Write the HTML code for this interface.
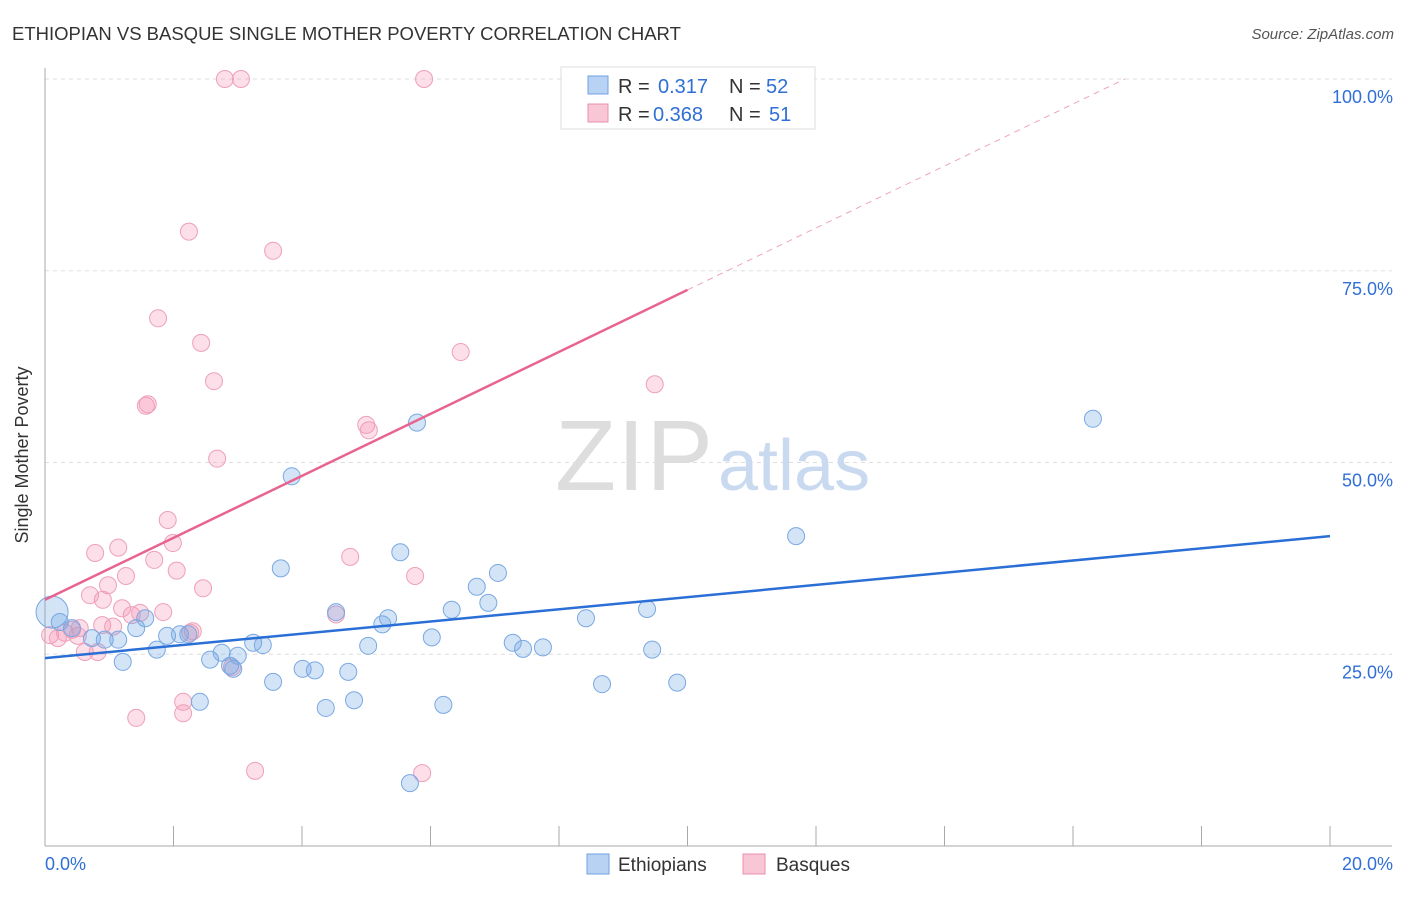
<!DOCTYPE html>
<html><head><meta charset="utf-8"><style>
body{margin:0;background:#fff;font-family:"Liberation Sans",sans-serif}
svg text{font-family:"Liberation Sans",sans-serif}
</style></head><body>
<svg width="1406" height="892" xmlns="http://www.w3.org/2000/svg">
<text x="12" y="40" font-size="18.5" fill="#333">ETHIOPIAN VS BASQUE SINGLE MOTHER POVERTY CORRELATION CHART</text>
<text x="1394" y="39" font-size="15" fill="#555" text-anchor="end" font-style="italic">Source: ZipAtlas.com</text>
<g id="grid"></g>
<text x="555" y="490" font-size="100" fill="#ddd" textLength="158" font-family="Liberation Serif">ZIP</text>
<text x="718" y="490" font-size="72" fill="#c9daf0">atlas</text>
<text x="28" y="455" font-size="18" fill="#333" text-anchor="middle" transform="rotate(-90 28 455)">Single Mother Poverty</text>
<g id="marks"></g>
<g>
<rect x="561" y="67" width="254" height="62" fill="#fff" stroke="#ddd"/>
<rect x="588" y="76" width="20" height="18" fill="#b8d2f4" stroke="#6fa0e0"/>
<text x="618" y="93" font-size="20" fill="#333">R =</text>
<text x="658" y="93" font-size="20" fill="#2f6fd6">0.317</text>
<text x="729" y="93" font-size="20" fill="#333">N =</text>
<text x="766" y="93" font-size="20" fill="#2f6fd6">52</text>
<rect x="588" y="104" width="20" height="18" fill="#f9c6d5" stroke="#e890aa"/>
<text x="618" y="121" font-size="20" fill="#333">R =</text>
<text x="653" y="121" font-size="20" fill="#2f6fd6">0.368</text>
<text x="729" y="121" font-size="20" fill="#333">N =</text>
<text x="769" y="121" font-size="20" fill="#2f6fd6">51</text>
</g>
<g>
<rect x="587" y="854" width="22" height="20" fill="#b8d2f4" stroke="#6fa0e0"/>
<text x="618" y="871" font-size="19" fill="#333">Ethiopians</text>
<rect x="743" y="854" width="22" height="20" fill="#f9c6d5" stroke="#e890aa"/>
<text x="776" y="871" font-size="19" fill="#333">Basques</text>
</g>
</svg>
<script>
const yTicks=[100,75,50,25];
const yTickLabels=["100.0%","75.0%","50.0%","25.0%"];
const xTickLabels=["0.0%","20.0%"];
const ethX=[0.11,0.23,0.42,0.73,0.93,1.14,1.21,1.42,1.56,1.74,1.90,2.10,2.23,2.41,2.57,2.75,2.88,2.93,3.00,3.24,3.39,3.55,3.67,3.84,4.01,4.20,4.37,4.53,4.72,4.81,5.03,5.25,5.34,5.53,5.68,5.79,6.02,6.20,6.33,6.72,6.90,7.05,7.28,7.44,7.75,8.42,8.67,9.37,9.45,9.84,11.69,16.31];
const ethY=[30.5,29.2,28.4,27.1,26.9,26.9,24.0,28.4,29.7,25.6,27.4,27.6,27.6,18.8,24.3,25.2,23.5,23.1,24.8,26.5,26.2,21.4,36.2,48.2,23.1,22.9,18.0,30.5,22.7,19.0,26.1,28.9,29.7,38.3,8.2,55.2,27.2,18.4,30.8,33.8,31.7,35.6,26.5,25.7,25.9,29.7,21.1,30.9,25.6,21.3,40.4,55.7];
const basX=[0.08,0.20,0.31,0.42,0.51,0.54,0.62,0.70,0.78,0.82,0.89,0.90,0.98,1.06,1.14,1.20,1.26,1.35,1.42,1.48,1.57,1.60,1.70,1.76,1.84,1.91,1.99,2.05,2.15,2.15,2.24,2.26,2.30,2.43,2.46,2.63,2.68,2.80,2.91,3.05,3.27,3.55,4.53,4.75,5.00,5.04,5.76,5.87,5.90,6.47,9.49];
const basY=[27.5,27.1,27.8,28.2,27.4,28.4,25.3,32.7,38.2,25.3,28.8,32.1,34.0,28.6,38.9,31.0,35.2,30.1,16.7,30.4,57.4,57.6,37.3,68.8,30.5,42.5,39.5,35.9,18.8,17.3,80.1,27.8,28.0,65.6,33.6,60.6,50.5,100,23.3,100,9.8,77.6,30.2,37.7,54.9,54.2,35.2,9.5,100,64.4,60.2];
const ethLine=[24.5,40.4];
const basLine=[32.1,72.5];
const basLineEndX=10;
const NS="http://www.w3.org/2000/svg";
const X=v=>45+v/20*1285;
const Y=v=>846-v/100*767;
function mk(t,a,p){const e=document.createElementNS(NS,t);for(const k in a)e.setAttribute(k,a[k]);p.appendChild(e);return e;}
const grid=document.getElementById('grid'),marks=document.getElementById('marks');
yTicks.forEach((t,i)=>{
 const l=mk('line',{x1:45,x2:1392,y1:Y(t),y2:Y(t),stroke:'#ddd','stroke-dasharray':'4,4'},grid);
 
 
 const tx=mk('text',{x:1393,y:Y(t)+24,'font-size':18,fill:'#2f6fd6','text-anchor':'end'},grid);
 tx.textContent=yTickLabels[i];
 
 
});
const ax=mk('line',{x1:45,x2:45,y1:68,y2:846,stroke:'#aaa'},grid);


const bx=mk('line',{x1:45,x2:1392,y1:846,y2:846,stroke:'#aaa'},grid);


for(let i=0;i<=10;i++){const t=mk('line',{x1:X(i*2),x2:X(i*2),y1:826,y2:846,stroke:'#aaa'},grid);
 
 }
[[0,'start',45],[20,'end',1393]].forEach((d,i)=>{const t=mk('text',{x:d[2],y:870,'font-size':18,fill:'#2f6fd6','text-anchor':d[1]},grid);t.textContent=xTickLabels[i];
 
 });
basX.forEach((x,i)=>{const c=mk('circle',{cx:X(x),cy:Y(basY[i]),r:8.5,fill:'rgba(244,150,180,0.3)',stroke:'#eea0b8','stroke-width':1},marks);
 
 });
ethX.forEach((x,i)=>{const c=mk('circle',{cx:X(x),cy:Y(ethY[i]),r:i==0?16:8.5,fill:'rgba(110,165,230,0.3)',stroke:'#7aa8e2','stroke-width':1},marks);
 
 });
const slope=(basLine[1]-basLine[0])/basLineEndX;
const xEnd=(100-basLine[0])/slope;
const d1=mk('line',{x1:X(basLineEndX),y1:Y(basLine[1]),x2:X(xEnd),y2:Y(100),stroke:'#eda5bb','stroke-dasharray':'6,5'},marks);


const l1=mk('line',{x1:X(0),y1:Y(basLine[0]),x2:X(basLineEndX),y2:Y(basLine[1]),stroke:'#e8648f','stroke-width':2.5},marks);


const l2=mk('line',{x1:X(0),y1:Y(ethLine[0]),x2:X(20),y2:Y(ethLine[1]),stroke:'#2a6fd6','stroke-width':2.5},marks);


</script>
</body></html>
